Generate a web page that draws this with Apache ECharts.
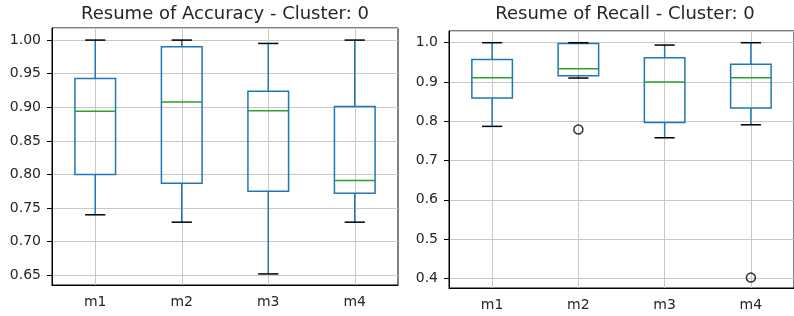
<!DOCTYPE html>
<html>
<head>
<meta charset="utf-8">
<script src="https://cdn.jsdelivr.net/npm/echarts@6/dist/echarts.min.js"></script>
<style>
html,body{margin:0;padding:0;background:#fff}
#chart{width:794px;height:316px}
</style>
</head>
<body>
<div id="chart"></div>
<script>
var models = ['m1', 'm2', 'm3', 'm4'];
// low whisker, q1, median, q3, high whisker
var accuracyBoxes = [
	[0.740, 0.800, 0.894, 0.943, 1.000],
	[0.729, 0.787, 0.908, 0.990, 1.000],
	[0.652, 0.775, 0.895, 0.924, 0.995],
	[0.729, 0.772, 0.791, 0.901, 1.000]
];
var recallBoxes = [
	[0.787, 0.859, 0.911, 0.957, 1.000],
	[0.910, 0.916, 0.934, 0.998, 1.000],
	[0.758, 0.797, 0.900, 0.962, 0.994],
	[0.791, 0.834, 0.911, 0.945, 1.000]
];
var recallOutliers = [['m2', 0.779], ['m4', 0.402]];

var font = 'DejaVu Sans';
var textColor = '#262626';
var gridColor = '#c8c8c8';

// draws one matplotlib style box: blue box + whiskers, green median, black caps
function renderBox(params, api){
	var x = api.value(0);
	var band = api.size([1, 0])[0];
	var hw = band * 0.235, cw = band * 0.117;
	var p = [1, 2, 3, 4, 5].map(function(d){ return api.coord([x, api.value(d)]); });
	var cx = p[0][0];
	var blue = {stroke: '#1f77b4', lineWidth: 1.5, fill: null};
	var black = {stroke: '#000', lineWidth: 1.5};
	return {
		type: 'group',
		children: [
			{type: 'line', shape: {x1: cx, y1: p[0][1], x2: cx, y2: p[1][1]}, style: blue},
			{type: 'line', shape: {x1: cx, y1: p[3][1], x2: cx, y2: p[4][1]}, style: blue},
			{type: 'rect', shape: {x: cx - hw, y: p[3][1], width: 2 * hw, height: p[1][1] - p[3][1]}, style: blue},
			{type: 'line', shape: {x1: cx - hw, y1: p[2][1], x2: cx + hw, y2: p[2][1]}, style: {stroke: '#2ca02c', lineWidth: 1.5}},
			{type: 'line', shape: {x1: cx - cw, y1: p[0][1], x2: cx + cw, y2: p[0][1]}, style: black},
			{type: 'line', shape: {x1: cx - cw, y1: p[4][1], x2: cx + cw, y2: p[4][1]}, style: black}
		]
	};
}

function boxData(boxes){
	return boxes.map(function(b, i){ return [models[i]].concat(b); });
}

function xAxisFor(idx){
	return {
		type: 'category', gridIndex: idx, data: models,
		axisLine: {show: true, lineStyle: {color: '#000', width: 1}},
		axisTick: {alignWithLabel: true, length: 5, lineStyle: {color: '#000'}},
		axisLabel: {color: textColor, fontSize: 14, fontFamily: font, margin: 10},
		splitLine: {show: true, alignWithLabel: true, lineStyle: {color: gridColor, width: 1}}
	};
}

function yAxisFor(idx, min, max, split, digits){
	return {
		type: 'value', gridIndex: idx, min: min, max: max, splitNumber: split,
		axisLine: {show: true, lineStyle: {color: '#000', width: 1}},
		axisTick: {show: true, length: 5, lineStyle: {color: '#000'}},
		axisLabel: {color: textColor, fontSize: 14, fontFamily: font, margin: 11,
			showMinLabel: false, showMaxLabel: false,
			formatter: function(v){ return v.toFixed(digits); }},
		splitLine: {show: true, lineStyle: {color: gridColor, width: 1}}
	};
}

var chart = echarts.init(document.getElementById('chart'));
var option = {
	animation: false,
	backgroundColor: '#fff',
	title: [
		{text: 'Resume of Accuracy - Cluster: 0', left: 225, top: 5, textAlign: 'center', padding: 0,
			textStyle: {fontSize: 18, fontWeight: 'normal', color: textColor, fontFamily: font}},
		{text: 'Resume of Recall - Cluster: 0', left: 625, top: 5, textAlign: 'center', padding: 0,
			textStyle: {fontSize: 18, fontWeight: 'normal', color: textColor, fontFamily: font}}
	],
	grid: [
		{left: 52, right: 396, top: 28, bottom: 31, show: true, borderColor: '#000', borderWidth: 1, containLabel: false},
		{left: 449, right: -9, top: 31, bottom: 28, show: true, borderColor: '#000', borderWidth: 1, containLabel: false}
	],
	xAxis: [xAxisFor(0), xAxisFor(1)],
	yAxis: [yAxisFor(0, 0.6355, 1.018, 7, 2), yAxisFor(1, 0.3755, 1.0298, 7, 1)],
	series: [
		{type: 'custom', xAxisIndex: 0, yAxisIndex: 0, renderItem: renderBox,
			encode: {x: 0, y: [1, 2, 3, 4, 5]}, data: boxData(accuracyBoxes)},
		{type: 'custom', xAxisIndex: 1, yAxisIndex: 1, renderItem: renderBox,
			encode: {x: 0, y: [1, 2, 3, 4, 5]}, data: boxData(recallBoxes)},
		{type: 'scatter', xAxisIndex: 1, yAxisIndex: 1, symbol: 'circle', symbolSize: 9,
			itemStyle: {color: 'rgba(0,0,0,0)', borderColor: '#000', borderWidth: 1.5},
			data: recallOutliers}
	]
};
chart.setOption(option);
</script>
</body>
</html>
